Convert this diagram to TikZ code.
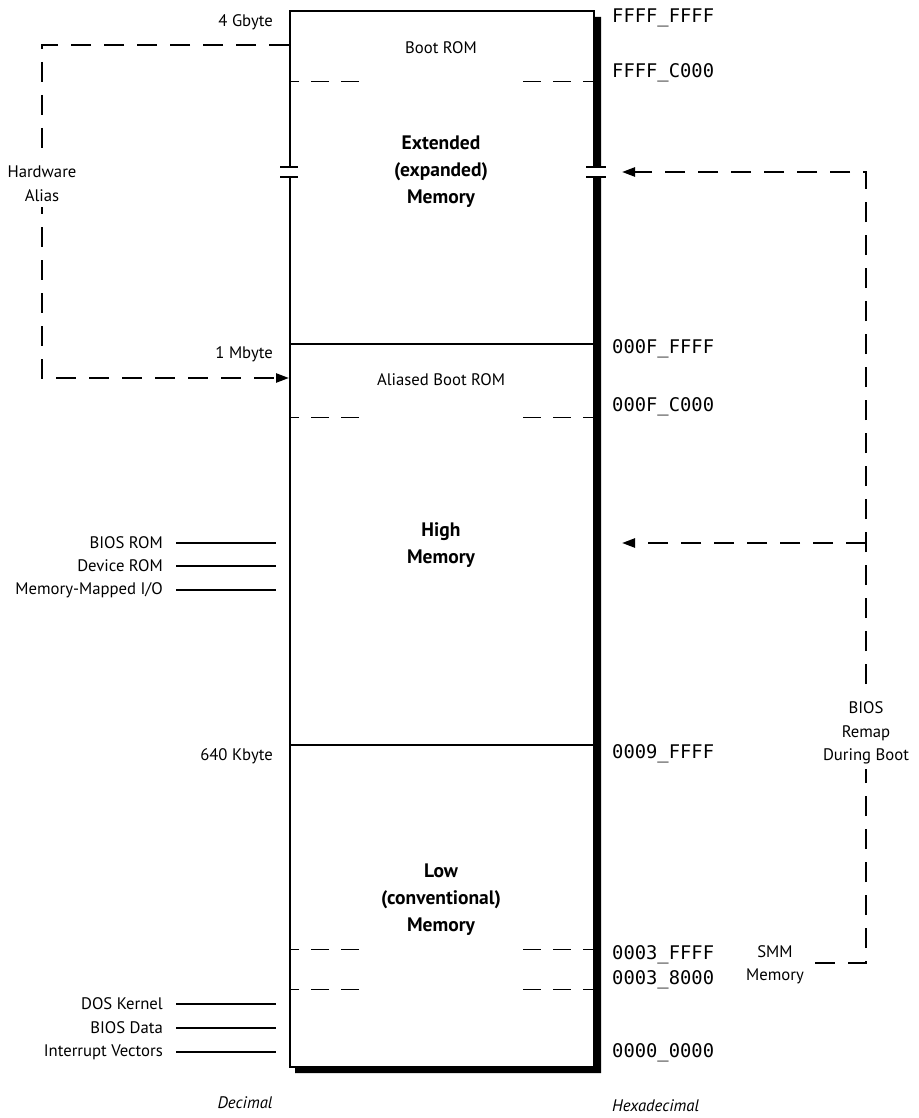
\documentclass[tikz,border=0pt]{standalone}
\usepackage{fontspec}
\setmainfont{PT Sans}
\newfontfamily\hexfont{DejaVu Sans Mono}
\usetikzlibrary{arrows.meta,positioning}

\begin{document}
\begin{tikzpicture}[x=1pt, y=-1pt, >={Triangle[length=13pt,width=9pt]},
  every node/.style={font=\fontsize{16.7}{23.5}\selectfont, inner sep=0pt},
  region/.style={font=\bfseries\fontsize{19.5}{27}\selectfont, align=center},
  addr/.style={anchor=west, font=\hexfont\fontsize{18.8}{20}\selectfont},
  side/.style={anchor=east},
  tick/.style={line width=1.8pt},
  part/.style={line width=1pt, dash pattern=on 18pt off 12pt},
  remap/.style={line width=2.4pt, dash pattern=on 20pt off 13pt}]

  \useasboundingbox (0,0) rectangle (918,1118);

  % Memory column with shadow
  \fill (593,17) -- (601,17) -- (601,1073) -- (295,1073) -- (295,1066) -- (593,1066) -- cycle;
  \node[draw, line width=1.8pt, minimum width=304pt, minimum height=1056pt, anchor=north west] (mem) at (289,10) {};
  \draw[tick] (mem.west |- 0,344) -- (mem.east |- 0,344);
  \draw[tick] (mem.west |- 0,745) -- (mem.east |- 0,745);
  \foreach \y in {82,417,949,989} {
    \draw[part] (359,\y) -- (mem.west |- 0,\y);
    \draw[part] (523,\y) -- (mem.east |- 0,\y);
  }

  % Break marks
  \fill[white] (283,168) rectangle (295,176);
  \fill[white] (586,168) rectangle (606,176);
  \draw[tick] (280,167) -- (298,167) (280,177) -- (298,177);
  \draw[tick] (586,167) -- (606,167) (586,177) -- (606,177);

  % Regions
  \node (boot) at (441,48) {Boot ROM};
  \node[region] (ext) at (441,172) {Extended\\(expanded)\\Memory};
  \node (alias) at (441,380) {Aliased Boot ROM};
  \node[region] (high) at (441,545) {High\\Memory};
  \node[region] (low) at (441,900) {Low\\(conventional)\\Memory};

  % Decimal sizes
  \node[side] (gb4) at (273,22) {4 Gbyte};
  \node[side] (mb1) at (273,354) {1 Mbyte};
  \node[side] (kb640) at (273,756) {640 Kbyte};

  % Hex addresses
  \node[addr] (a1) at (612,18) {FFFF\_FFFF};
  \node[addr] (a2) at (612,73) {FFFF\_C000};
  \node[addr] (a3) at (612,349) {000F\_FFFF};
  \node[addr] (a4) at (612,407) {000F\_C000};
  \node[addr] (a5) at (612,754) {0009\_FFFF};
  \node[addr] (a6) at (612,955) {0003\_FFFF};
  \node[addr] (a7) at (612,980) {0003\_8000};
  \node[addr] (a8) at (612,1053) {0000\_0000};

  % Contents
  \node[side] (biosrom) at (163,543) {BIOS ROM};
  \node[side] (devrom) at (163,566) {Device ROM};
  \node[side] (mmio) at (163,590) {Memory-Mapped I/O};
  \node[side] (doskern) at (163,1004) {DOS Kernel};
  \node[side] (biosdata) at (163,1028) {BIOS Data};
  \node[side] (intvec) at (163,1052) {Interrupt Vectors};
  \foreach \n in {biosrom,devrom,mmio,doskern,biosdata,intvec}
    \draw[tick] ([xshift=13pt]\n.east) -- ([xshift=-13pt]\n.east -| mem.west);

  % Hardware alias
  \draw[remap,->] (mem.west |- 0,45) -| (42,378) -- (mem.west |- 0,378);
  \node[fill=white, inner sep=5pt, align=center] (hwalias) at (42,184) {Hardware\\Alias};

  % BIOS remap
  \coordinate (smmend) at (815,963);
  \coordinate (extgap) at (622,172);
  \coordinate (highin) at (622,543);
  \draw[remap,->] (smmend) -| (866,172) -- (extgap);
  \draw[remap,->] (866,543) -- (highin);
  \node[fill=white, inner sep=5pt, align=center] (remap) at (866,733) {BIOS\\Remap\\During Boot};
  \node[align=center] (smm) at (775,965) {SMM\\Memory};

  % Captions
  \node[font=\itshape\fontsize{16.7}{23}\selectfont] (dec) at (245,1103) {Decimal};
  \node[anchor=west, font=\itshape\fontsize{16.7}{23}\selectfont] (hexa) at (612,1106) {Hexadecimal};
\end{tikzpicture}
\end{document}
